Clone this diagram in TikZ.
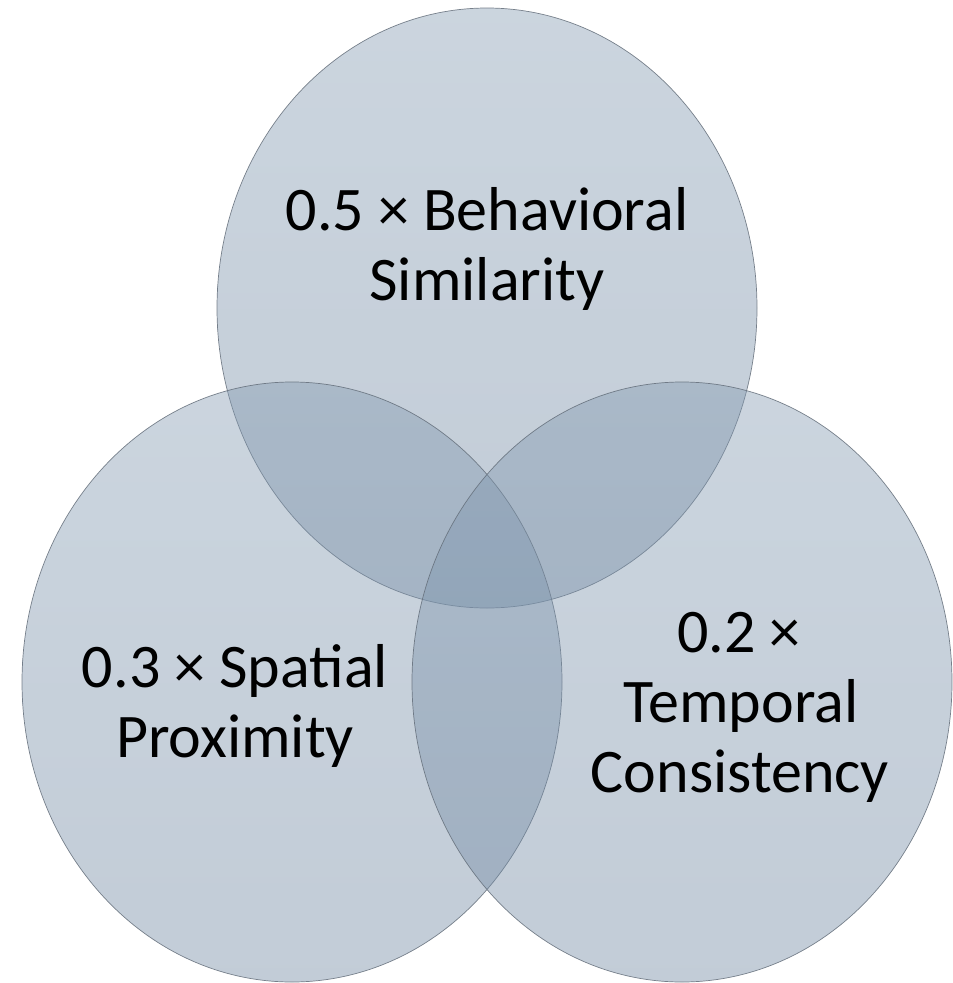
\documentclass[tikz,border=0pt]{standalone}
\usepackage{fontspec}
\setmainfont{Carlito}
\usetikzlibrary{shapes.geometric}
\definecolor{vtop}{RGB}{131,154,177}
\definecolor{vbot}{RGB}{110,134,160}
\definecolor{vline}{RGB}{100,110,122}
\tikzset{
  venn/.style={ellipse, inner sep=0pt, minimum width=540pt, minimum height=600pt,
    top color=vtop, bottom color=vbot, fill opacity=0.42,
    draw=vline, draw opacity=0.85, line width=0.7pt},
  lbl/.style={anchor=base, inner sep=0pt, text=black, font=\fontsize{62}{70}\selectfont}
}
\begin{document}
\begin{tikzpicture}[x=1pt,y=-1pt]
\useasboundingbox (0,0) rectangle (953,983);
\node[venn] (top) at (487,308) {};
\node[venn] (left) at (292,682) {};
\node[venn] (right) at (682,682) {};
\node[lbl] (t1) at (487,230) {0.5 × Behavioral};
\node[lbl] (t2) at (487,300) {Similarity};
\node[lbl] (l1) at (235,687) {0.3 × Spatial};
\node[lbl] (l2) at (235,757) {Proximity};
\node[lbl] (r1) at (739,652) {0.2 ×};
\node[lbl] (r2) at (741,722) {Temporal};
\node[lbl] (r3) at (740,792) {Consistency};
\end{tikzpicture}
\end{document}
